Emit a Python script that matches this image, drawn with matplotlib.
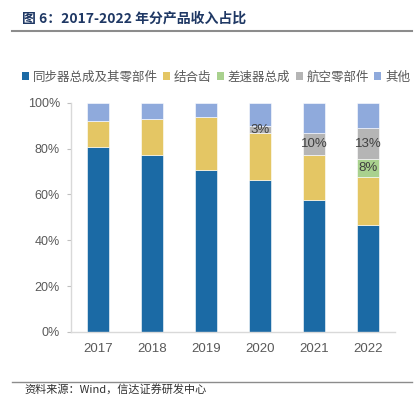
import matplotlib
matplotlib.use("Agg")
import matplotlib.pyplot as plt
from matplotlib.patches import Patch
from matplotlib.lines import Line2D
import numpy as np

plt.rcParams['font.family'] = ['Liberation Sans', 'Noto Sans CJK SC', 'DejaVu Sans']

years = ['2017', '2018', '2019', '2020', '2021', '2022']
series_names = ['同步器总成及其零部件', '结合齿', '差速器总成', '航空零部件', '其他']
tongbuqi = [80.5, 77.2, 70.5, 66.2, 57.4, 46.6]
jieheci = [11.5, 15.7, 23.1, 20.4, 19.6, 20.8]
chasuqi = [0.0, 0.0, 0.0, 0.0, 0.0, 8.1]
hangkong = [0.0, 0.0, 0.0, 3.4, 9.6, 13.3]
qita = [8.0, 7.1, 6.4, 10.0, 13.4, 11.2]
label_texts = {  # (series index, year index): label
    (3, 3): '3%', (3, 4): '10%', (3, 5): '13%', (2, 5): '8%'
}

colors = ['#1B6AA5', '#E4C664', '#A9D18E', '#B5B5B5', '#8FAADC']
data = [tongbuqi, jieheci, chasuqi, hangkong, qita]

W, H = 415, 395
fig = plt.figure(figsize=(W / 100, H / 100), dpi=100)
ax = fig.add_axes([71 / W, (H - 332) / H, (395 - 71) / W, (332 - 102.7) / H])

x = np.arange(len(years))
bottom = np.zeros(len(years))
for si, (vals, c) in enumerate(zip(data, colors)):
    vals = np.array(vals)
    ax.bar(x, vals, 0.4, bottom=bottom, color=c, edgecolor='white', linewidth=0.4)
    for yi in range(len(years)):
        if (si, yi) in label_texts:
            ax.text(x[yi], bottom[yi] + vals[yi] / 2, label_texts[(si, yi)],
                    ha='center', va='center', fontsize=9.5, color='#404040')
    bottom += vals

ax.set_xlim(-0.5, 5.5)
ax.set_ylim(0, 100)
ax.set_xticks(x)
ax.set_xticklabels(years, fontsize=9.5, color='#595959')
ax.set_yticks([0, 20, 40, 60, 80, 100])
ax.set_yticklabels(['0%', '20%', '40%', '60%', '80%', '100%'], fontsize=9, color='#595959')
ax.tick_params(axis='x', length=0, pad=8)
ax.tick_params(axis='y', length=3, color='#BFBFBF', pad=5)
for s in ['top', 'right']:
    ax.spines[s].set_visible(False)
for s in ['left', 'bottom']:
    ax.spines[s].set_color('#D9D9D9')
    ax.spines[s].set_linewidth(1.0)

handles = [Patch(facecolor=c, edgecolor='none') for c in colors]
fig.legend(handles, series_names, loc='center', bbox_to_anchor=(216 / W, 1 - 77 / H),
           ncol=5, frameon=False, handlelength=0.55, handleheight=0.55,
           handletextpad=0.3, columnspacing=0.45,
           prop={'family': ['Noto Sans CJK SC'], 'size': 9}, labelcolor='#595959')

fig.text(22 / W, 1 - 19 / H, '图 6：2017-2022 年分产品收入占比', fontsize=10,
         fontweight='bold', color='#1F3864', va='center', ha='left',
         family=['Noto Sans CJK SC', 'DejaVu Sans'])
fig.add_artist(Line2D([12 / W, 412 / W], [1 - 31 / H, 1 - 31 / H], color='#8C8C8C', lw=1.5))
fig.add_artist(Line2D([12 / W, 412 / W], [1 - 382 / H, 1 - 382 / H], color='#8C8C8C', lw=1.0))
fig.text(24 / W, 1 - 383.5 / H, '资料来源：Wind，信达证券研发中心', fontsize=8,
         style='italic', color='#303030', va='top', ha='left',
         family=['Noto Sans CJK SC', 'DejaVu Sans'])

fig.savefig('out.png', dpi=100)
